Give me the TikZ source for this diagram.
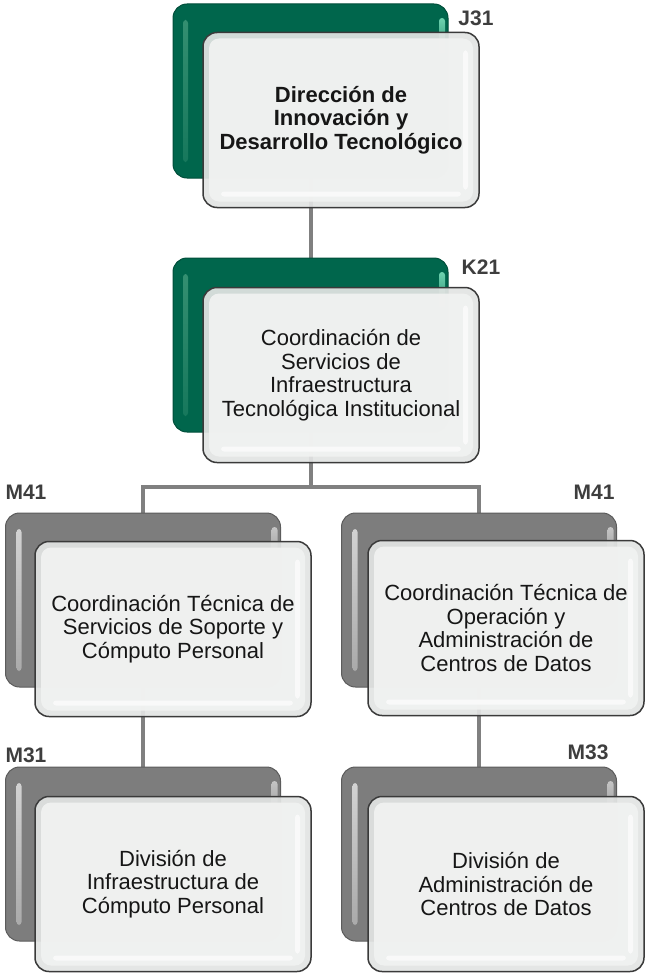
\documentclass[tikz,border=0pt]{standalone}
\usepackage{fontspec}
\setmainfont{Liberation Sans}
\usetikzlibrary{backgrounds}
\definecolor{grn}{RGB}{0,102,76}
\definecolor{grnedge}{RGB}{0,78,58}
\definecolor{grnhl}{RGB}{55,145,115}
\definecolor{grnmint}{RGB}{110,210,175}
\definecolor{gry}{RGB}{125,125,125}
\definecolor{gryedge}{RGB}{92,92,92}
\definecolor{gryhl}{RGB}{215,215,215}
\definecolor{frontfill}{RGB}{226,228,227}
\definecolor{frontin}{RGB}{241,242,241}
\definecolor{frontgl}{RGB}{250,250,250}
\definecolor{frontedge}{RGB}{58,58,58}
\definecolor{conn}{RGB}{128,128,128}
\definecolor{lbl}{RGB}{62,62,62}
\definecolor{txt}{RGB}{22,22,22}
\tikzset{
  backbox/.style={rounded corners=14pt, minimum width=275pt, minimum height=174pt, inner sep=0pt, line width=1pt},
  greenback/.style={backbox, fill=grn, draw=grnedge, path picture={
    \shade[top color=grnhl, bottom color=grnhl!35!grn, rounded corners=3pt]
      ([xshift=10pt,yshift=-16pt]path picture bounding box.north west) rectangle ([xshift=15pt,yshift=16pt]path picture bounding box.south west);
    \shade[top color=grnmint, bottom color=grn, rounded corners=3pt]
      ([xshift=-9pt,yshift=-14pt]path picture bounding box.north east) rectangle ([xshift=-3pt,yshift=-70pt]path picture bounding box.north east);
  }},
  grayback/.style={backbox, fill=gry, draw=gryedge, path picture={
    \shade[top color=gryhl, bottom color=gryhl!45!gry, rounded corners=3pt]
      ([xshift=11pt,yshift=-16pt]path picture bounding box.north west) rectangle ([xshift=16pt,yshift=16pt]path picture bounding box.south west);
    \shade[top color=gryhl!80!gry, bottom color=gry, rounded corners=3pt]
      ([xshift=-9pt,yshift=-14pt]path picture bounding box.north east) rectangle ([xshift=-3pt,yshift=-70pt]path picture bounding box.north east);
  }},
  frontbox/.style={rounded corners=14pt, minimum width=276pt, minimum height=175pt, inner sep=0pt,
    draw=frontedge, line width=1.5pt, fill=frontfill, fill opacity=0.93, text opacity=1, text=txt,
    align=center, font=\fontsize{22}{23.5}\selectfont, path picture={
    \fill[frontin, rounded corners=10pt]
      ([xshift=6pt,yshift=-6pt]path picture bounding box.north west) rectangle ([xshift=-6pt,yshift=6pt]path picture bounding box.south east);
    \fill[frontgl, rounded corners=3pt]
      ([xshift=-16pt,yshift=-18pt]path picture bounding box.north east) rectangle ([xshift=-11pt,yshift=18pt]path picture bounding box.south east);
    \fill[frontgl, rounded corners=3pt]
      ([xshift=18pt,yshift=16pt]path picture bounding box.south west) rectangle ([xshift=-18pt,yshift=11pt]path picture bounding box.south east);
  }},
  lbltext/.style={font=\bfseries\fontsize{21}{21}\selectfont, text=lbl, inner sep=0pt},
  connline/.style={draw=conn, line width=4pt}
}
\begin{document}
\begin{tikzpicture}[x=1pt,y=-1pt]
\useasboundingbox (0,0) rectangle (645,974);
% level 1
\node[greenback] (b1) at (310.5,91) {};
\node[frontbox] (f1) at (341,120) {\bfseries Dirección de\\\bfseries Innovación y\\\bfseries Desarrollo Tecnológico};
\node[lbltext] (l1) at (476,18) {J31};
% level 2
\node[greenback] (b2) at (310.5,345) {};
\node[frontbox] (f2) at (341,375) {Coordinación de\\Servicios de\\Infraestructura\\Tecnológica Institucional};
\node[lbltext] (l2) at (481,267) {K21};
% level 3
\node[grayback] (b3) at (143,600) {};
\node[frontbox] (f3) at (173,629) {Coordinación Técnica de\\Servicios de Soporte y\\Cómputo Personal};
\node[lbltext] (l3) at (26,492) {M41};
\node[grayback] (b4) at (479,600) {};
\node[frontbox] (f4) at (506,628) {Coordinación Técnica de\\Operación y\\Administración de\\Centros de Datos};
\node[lbltext] (l4) at (594,492) {M41};
% level 4
\node[grayback] (b5) at (143,854) {};
\node[frontbox] (f5) at (173,884) {División de\\Infraestructura de\\Cómputo Personal};
\node[lbltext] (l5) at (26,755) {M31};
\node[grayback] (b6) at (479,854) {};
\node[frontbox] (f6) at (506,884) {División de\\Administración de\\Centros de Datos};
\node[lbltext] (l6) at (588,752) {M33};
% connectors
\coordinate (j) at (b2.center |- 0,487);
\begin{pgfonlayer}{background}
\draw[connline] (b1.center) -- (b2.center);
\draw[connline] (b2.center) -- (j);
\draw[connline] (b3.center) |- (j) -| (b4.center);
\draw[connline] (b3.center) -- (b5.center);
\draw[connline] (b4.center) -- (b6.center);
\end{pgfonlayer}
\end{tikzpicture}
\end{document}
